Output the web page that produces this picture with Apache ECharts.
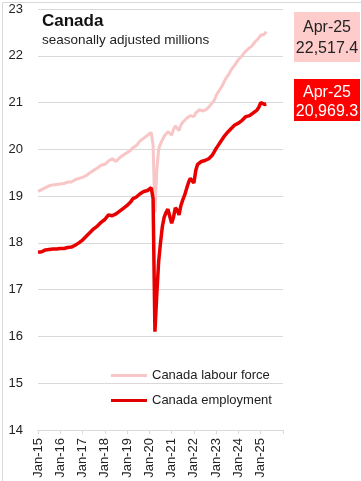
<!DOCTYPE html>
<html>
<head>
<meta charset="utf-8">
<script src="https://cdn.jsdelivr.net/npm/echarts@6/dist/echarts.min.js"></script>
<style>
html,body{margin:0;padding:0;background:#fff;}
#c{width:361px;height:481px;}
</style>
</head>
<body>
<div id="c"></div>
<script>
// Monthly series, Jan-2015 .. Apr-2025, millions
const startYear = 2015;
const labourForce = [
  19.10, 19.12, 19.14, 19.15, 19.18, 19.20, 19.22, 19.23, 19.24, 19.22, 19.25, 19.26,
  19.26, 19.28, 19.27, 19.29, 19.30, 19.31, 19.30, 19.33, 19.35, 19.36, 19.38, 19.37,
  19.40, 19.43, 19.44, 19.46, 19.50, 19.52, 19.55, 19.58, 19.60, 19.62, 19.66, 19.70,
  19.68, 19.72, 19.75, 19.78, 19.80, 19.76, 19.74, 19.78, 19.82, 19.85, 19.88, 19.90,
  19.93, 19.96, 19.98, 20.03, 20.05, 20.08, 20.12, 20.18, 20.22, 20.24, 20.26, 20.30,
  20.32, 20.36, 20.10, 18.65, 19.55, 20.00, 20.12, 20.20, 20.28, 20.33, 20.38, 20.40,
  20.30, 20.42, 20.50, 20.45, 20.40, 20.52, 20.58, 20.62, 20.66, 20.70, 20.72, 20.74,
  20.70, 20.78, 20.82, 20.85, 20.88, 20.82, 20.80, 20.86, 20.90, 20.95, 21.00, 21.05,
  21.15, 21.22, 21.28, 21.34, 21.42, 21.50, 21.56, 21.62, 21.70, 21.75, 21.80, 21.86,
  21.92, 21.96, 22.00, 22.06, 22.10, 22.14, 22.18, 22.20, 22.25, 22.30, 22.34, 22.38,
  22.44, 22.48, 22.46, 22.5174
];
const employment = [
  17.80, 17.82, 17.81, 17.83, 17.85, 17.83, 17.86, 17.88, 17.87, 17.88, 17.87, 17.88,
  17.88, 17.87, 17.88, 17.89, 17.90, 17.92, 17.91, 17.93, 17.95, 17.97, 18.00, 18.04,
  18.06, 18.10, 18.14, 18.18, 18.22, 18.26, 18.30, 18.33, 18.36, 18.40, 18.44, 18.48,
  18.50, 18.55, 18.60, 18.62, 18.58, 18.60, 18.62, 18.65, 18.68, 18.72, 18.74, 18.78,
  18.80, 18.84, 18.88, 18.94, 18.96, 18.98, 19.02, 19.05, 19.08, 19.10, 19.09, 19.12,
  19.14, 19.18, 18.95, 16.10, 16.90, 17.60, 18.00, 18.35, 18.55, 18.65, 18.72, 18.68,
  18.42, 18.55, 18.75, 18.70, 18.60, 18.80, 18.92, 19.02, 19.15, 19.28, 19.38, 19.42,
  19.28, 19.55, 19.68, 19.72, 19.74, 19.72, 19.76, 19.78, 19.80, 19.84, 19.88, 19.92,
  20.02, 20.08, 20.14, 20.20, 20.26, 20.30, 20.36, 20.40, 20.44, 20.48, 20.52, 20.55,
  20.56, 20.60, 20.62, 20.66, 20.70, 20.70, 20.72, 20.74, 20.78, 20.80, 20.84, 20.90,
  21.00, 21.00, 20.96, 20.9693
];
const seriesNames = ['Canada labour force', 'Canada employment'];
const yTicks = [14, 15, 16, 17, 18, 19, 20, 21, 22, 23];
const lastLabel = 'Apr-25';

const toPts = arr => arr.map((v, i) => [i, v]);
const fmt = v => (v * 1000).toLocaleString('en-US', {minimumFractionDigits: 1, maximumFractionDigits: 1});
const FONT = '"Liberation Sans", Arial, sans-serif';

const chart = echarts.init(document.getElementById('c'), null, {renderer: 'canvas'});
chart.setOption({
  animation: false,
  backgroundColor: '#fff',
  title: {
    text: 'Canada',
    subtext: 'seasonally adjusted millions',
    left: 37, top: 8,
    itemGap: 3,
    textStyle: {fontFamily: FONT, fontSize: 17, fontWeight: 'bold', color: '#111'},
    subtextStyle: {fontFamily: FONT, fontSize: 13.5, color: '#222'}
  },
  legend: {
    orient: 'vertical',
    left: 106, top: 363,
    itemWidth: 36, itemHeight: 3, itemGap: 10,
    icon: 'rect',
    textStyle: {fontFamily: FONT, fontSize: 13, color: '#222', lineHeight: 15},
    data: seriesNames
  },
  grid: {left: 38, right: 78, top: 9, bottom: 51, containLabel: false},
  xAxis: {
    type: 'value', min: 0, max: 132, interval: 12,
    axisLine: {show: true, lineStyle: {color: '#d9d9d9', width: 1}},
    axisTick: {show: true, length: 4, lineStyle: {color: '#d9d9d9'}},
    splitLine: {show: false},
    axisLabel: {
      rotate: 90, margin: 8, fontFamily: FONT, fontSize: 13, color: '#222',
      formatter: v => v >= 132 ? '' : 'Jan-' + String((startYear + v / 12) % 100).padStart(2, '0')
    }
  },
  yAxis: {
    type: 'value', min: yTicks[0], max: yTicks[yTicks.length - 1], interval: 1,
    axisLine: {show: false}, axisTick: {show: false},
    splitLine: {lineStyle: {color: '#d9d9d9', width: 1}},
    axisLabel: {margin: 15, fontFamily: FONT, fontSize: 13, color: '#222'}
  },
  series: [
    {name: seriesNames[0], type: 'line', data: toPts(labourForce), showSymbol: false,
     lineStyle: {color: '#F8C6C6', width: 3}, itemStyle: {color: '#F8C6C6'}, z: 2},
    {name: seriesNames[1], type: 'line', data: toPts(employment), showSymbol: false,
     lineStyle: {color: '#E80000', width: 3.5}, itemStyle: {color: '#E00000'}, z: 3}
  ],
  graphic: [
    {type: 'rect', left: 0, top: 0, shape: {x: 0.5, y: 0.5, width: 360, height: 480},
     style: {fill: 'none', stroke: '#d9d9d9', lineWidth: 1}, silent: true},
    {type: 'rect', shape: {x: 294, y: 12, width: 66, height: 50}, style: {fill: '#FFCCCC'}},
    {type: 'text', x: 327, y: 38, style: {
      text: lastLabel + '\n' + fmt(labourForce[labourForce.length - 1]),
      fill: '#222', font: '16px ' + FONT, align: 'center', verticalAlign: 'middle', lineHeight: 21}},
    {type: 'rect', shape: {x: 294, y: 79, width: 66, height: 42}, style: {fill: '#FF0000'}},
    {type: 'text', x: 327, y: 102, style: {
      text: lastLabel + '\n' + fmt(employment[employment.length - 1]),
      fill: '#fff', font: '16px ' + FONT, align: 'center', verticalAlign: 'middle', lineHeight: 19}}
  ]
});
</script>
</body>
</html>
